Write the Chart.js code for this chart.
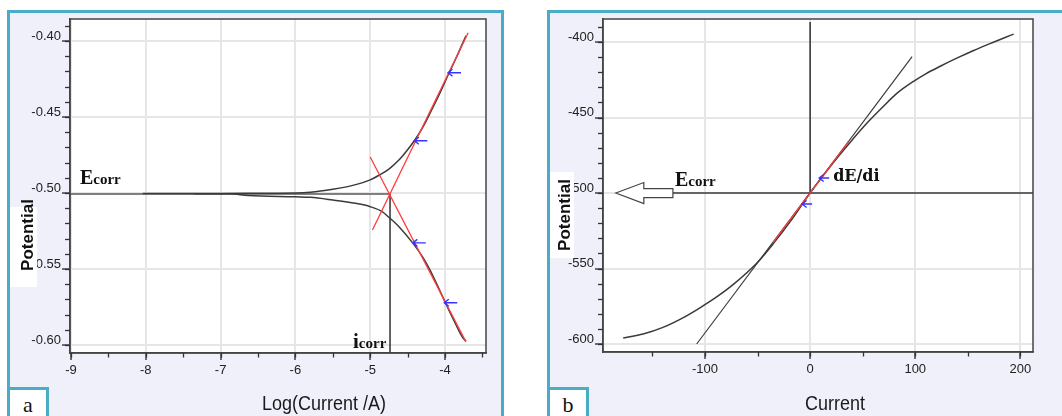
<!DOCTYPE html>
<html><head><meta charset="utf-8">
<script src="https://cdn.jsdelivr.net/npm/chart.js@4"></script>
<style>
html,body{margin:0;padding:0;background:#fff;width:1062px;height:416px;overflow:hidden;position:relative;}
.panel{position:absolute;background:#f0f0fb;border:3px solid #4bacc6;box-sizing:border-box;}
#pa{left:7px;top:10px;width:497px;height:430px;}
#pb{left:547px;top:10px;width:530px;height:430px;}
canvas{position:absolute;top:0;}
#ca{left:0;}
#cb{left:540px;}
.lab{position:absolute;top:387px;width:42px;height:40px;box-sizing:border-box;border:3px solid #4bacc6;background:#fff;font:22px "Liberation Serif",serif;text-align:center;line-height:30px;color:#111;}
#la{left:7px;}
#lb{left:547px;}
</style></head>
<body>
<div class="panel" id="pa"></div>
<div class="panel" id="pb"></div>
<canvas id="ca" width="520" height="416" style="width:520px;height:416px"></canvas>
<canvas id="cb" width="522" height="416" style="width:522px;height:416px"></canvas>
<div class="lab" id="la">a</div>
<div class="lab" id="lb">b</div>
<script>
// ---------- panel a : Tafel plot ----------
const anodicLogI = [-8.04,-7.0,-6.3,-6.0,-5.8,-5.5,-5.3,-5.1,-5.0,-4.87,-4.75,-4.62,-4.5,-4.41,-4.3,-4.2,-4.08,-3.96,-3.85,-3.72];
const anodicE    = [-0.5004,-0.5003,-0.5001,-0.5000,-0.4995,-0.4976,-0.4958,-0.4932,-0.4914,-0.4880,-0.4843,-0.4785,-0.4715,-0.4656,-0.4570,-0.4475,-0.4355,-0.4225,-0.4110,-0.3965];
const cathodicLogI = [-7.35,-6.88,-6.63,-6.0,-5.8,-5.5,-5.2,-5.0,-4.85,-4.75,-4.6,-4.43,-4.3,-4.2,-4.1,-4.0,-3.88,-3.77,-3.72];
const cathodicE    = [-0.5005,-0.5005,-0.5017,-0.5025,-0.5028,-0.5046,-0.5068,-0.5090,-0.5120,-0.5160,-0.5230,-0.5330,-0.5420,-0.5507,-0.5610,-0.5717,-0.5840,-0.5947,-0.5975];
const anodicFitLogI = [-4.97,-3.69];
const anodicFitE    = [-0.5243,-0.3946];
const cathodicFitLogI = [-5.0,-3.72];
const cathodicFitE    = [-0.4763,-0.5980];
const ecorrA = -0.5006;
const logIcorr = -4.735;
const tafelArrowLogI = [-3.96,-4.41,-4.43,-4.01];
const tafelArrowE    = [-0.4209,-0.4656,-0.5328,-0.5722];
const aXRange = [-9.013,-3.452];
const aYRange = [-0.6053,-0.3855];
const aXTicks = [-9,-8,-7,-6,-5,-4];
const aYTicks = [-0.60,-0.55,-0.50,-0.45,-0.40];
const aXTitle = 'Log(Current /A)';
const yTitle = 'Potential';
const ecorrLabel = ['E','corr'];
const icorrLabel = ['i','corr'];

// ---------- panel b : linear polarization ----------
const lprCurrent   = [-177.8,-158.8,-140,-120.6,-104.8,-88.9,-73,-50.8,-35,-17,0,22.2,38,55,69.8,82.5,98.4,110,123.8,140,155,171,193.6];
const lprPotential = [-596,-593.4,-589,-582.5,-576,-568.8,-560.5,-546.5,-533.5,-517,-500,-479.8,-466.5,-453,-442.5,-434,-426,-421,-416,-410.5,-405.7,-401,-394.7];
const tangentCurrent   = [-107.9,97];
const tangentPotential = [-600,-409.6];
const slopeFitCurrent   = [-35,36.5];
const slopeFitPotential = [-532.5,-466];
const ecorrB = -500;
const ecorrLineCurrent = [-130.5,212];
const zeroLinePotential = [-386.7,-500];
const hollowArrowCurrent = [-184.8,-130.5];
const lprArrowCurrent   = [8.6,-7.6];
const lprArrowPotential = [-490,-507.3];
const bXRange = [-197,212];
const bYRange = [-605.3,-384.7];
const bXTicks = [-100,0,100,200];
const bYTicks = [-600,-550,-500,-450,-400];
const bXTitle = 'Current';
const slopeLabel = 'dE/di';

const pts = (xs, ys) => xs.map((x,i)=>({x, y: ys[i]}));
const BLUE = '#3535ff', RED = '#ff3b3b', DARK = '#3a3a3a';

function line(data, color, width, order){
  return {data, borderColor: color, borderWidth: width, showLine: true, pointRadius: 0, fill: false,
          cubicInterpolationMode: 'monotone', order};
}

function makeDeco(cfg){
  return {
    id: 'deco',
    beforeDraw(chart){
      const {ctx, chartArea: a} = chart;
      ctx.save(); ctx.fillStyle = '#fff';
      ctx.fillRect(a.left, a.top, a.right - a.left, a.bottom - a.top);
      ctx.restore();
    },
    afterDraw(chart){
      const {ctx, chartArea: a} = chart;
      const xs = chart.scales.x, ys = chart.scales.y;
      ctx.save();
      // frame
      ctx.strokeStyle = '#444'; ctx.lineWidth = 1.5;
      ctx.strokeRect(a.left, a.top, a.right - a.left, a.bottom - a.top);
      // minor ticks
      ctx.strokeStyle = '#333'; ctx.lineWidth = 1.3;
      const mx = cfg.minorX, my = cfg.minorY;
      for (let v = Math.ceil(xs.min / mx) * mx; v <= xs.max + 1e-9; v += mx) {
        const p = Math.round(xs.getPixelForValue(v)) + 0.5;
        ctx.beginPath(); ctx.moveTo(p, a.bottom); ctx.lineTo(p, a.bottom + 4.5); ctx.stroke();
      }
      for (let v = Math.ceil(ys.min / my) * my; v <= ys.max + 1e-9; v += my) {
        const p = Math.round(ys.getPixelForValue(v)) + 0.5;
        ctx.beginPath(); ctx.moveTo(a.left - 5, p); ctx.lineTo(a.left, p); ctx.stroke();
      }
      // hollow arrow
      if (cfg.hollow) {
        const tx = xs.getPixelForValue(cfg.hollow.x[0]), sx = xs.getPixelForValue(cfg.hollow.x[1]);
        const ty = ys.getPixelForValue(cfg.hollow.y);
        const hx = tx + 28;
        ctx.beginPath();
        ctx.moveTo(tx, ty); ctx.lineTo(hx, ty - 10.5); ctx.lineTo(hx, ty - 4.5); ctx.lineTo(sx, ty - 4.5);
        ctx.lineTo(sx, ty + 4.5); ctx.lineTo(hx, ty + 4.5); ctx.lineTo(hx, ty + 10.5); ctx.closePath();
        ctx.fillStyle = '#fff'; ctx.fill();
        ctx.strokeStyle = '#444'; ctx.lineWidth = 1.2; ctx.stroke();
      }
      // blue arrows
      ctx.strokeStyle = BLUE; ctx.lineWidth = 1.4;
      cfg.arrows.x.forEach((xv, i) => {
        const px = xs.getPixelForValue(xv), py = ys.getPixelForValue(cfg.arrows.y[i]);
        const L = cfg.arrows.len;
        ctx.beginPath();
        ctx.moveTo(px + L, py); ctx.lineTo(px, py);
        ctx.moveTo(px + 4.5, py - 3.5); ctx.lineTo(px, py); ctx.lineTo(px + 4.5, py + 3.5);
        ctx.stroke();
      });
      // annotations
      ctx.fillStyle = '#111'; ctx.textBaseline = 'alphabetic'; ctx.textAlign = 'left';
      cfg.texts.forEach(t => {
        let px = xs.getPixelForValue(t.x); const py = ys.getPixelForValue(t.y);
        t.parts.forEach(part => {
          ctx.font = part.font; ctx.fillText(part.s, px, py);
          px += ctx.measureText(part.s).width;
        });
      });
      // y title with white backing
      ctx.fillStyle = '#fff';
      ctx.fillRect(cfg.yBox[0], cfg.yBox[1], cfg.yBox[2], cfg.yBox[3]);
      ctx.fillStyle = '#111';
      ctx.font = 'bold 17px "Liberation Sans", Arial, sans-serif';
      ctx.textAlign = 'center'; ctx.textBaseline = 'middle';
      ctx.translate(cfg.yTitlePos[0], cfg.yTitlePos[1]); ctx.rotate(-Math.PI / 2);
      ctx.fillText(yTitle, 0, 0);
      ctx.setTransform(1, 0, 0, 1, 0, 0);
      // x title (slightly tall glyphs like the reference)
      ctx.font = '18px "Liberation Sans", Arial, sans-serif';
      ctx.fillStyle = '#1a1a1a';
      ctx.translate(cfg.xTitlePos[0], cfg.xTitlePos[1]); ctx.scale(1, 1.12);
      ctx.fillText(cfg.xTitle, 0, 0);
      ctx.restore();
    }
  };
}

function makeScales(xr, yr, xticks, yticks, xfmt, yfmt, yWidth, xHeight){
  const tickFont = {family: '"Liberation Sans", Arial, sans-serif', size: 13};
  return {
    x: {
      type: 'linear', position: 'bottom', min: xr[0], max: xr[1],
      afterFit: s => { s.height = xHeight; },
      afterBuildTicks: s => { s.ticks = xticks.map(v => ({value: v})); },
      ticks: {autoSkip: false, maxRotation: 0, padding: 3,
              color: '#222', font: tickFont, callback: xfmt},
      grid: {color: '#e6e6e6', lineWidth: 2, tickColor: '#333', tickLength: 7, tickWidth: 1.4},
      border: {display: true, color: '#444', width: 1.5},
      title: {display: false}
    },
    y: {
      type: 'linear', position: 'left', min: yr[0], max: yr[1],
      afterFit: s => { s.width = yWidth; },
      afterBuildTicks: s => { s.ticks = yticks.map(v => ({value: v})); },
      ticks: {autoSkip: false, padding: 1, labelOffset: -5,
              color: '#222', font: tickFont, callback: yfmt},
      grid: {color: '#e6e6e6', lineWidth: 2, tickColor: '#333', tickLength: 8, tickWidth: 1.4},
      border: {display: true, color: '#444', width: 1.5},
      title: {display: false}
    }
  };
}

const commonOpts = {
  responsive: false, animation: false, devicePixelRatio: 1,
  plugins: {legend: {display: false}, tooltip: {enabled: false}, title: {display: false}},
  events: []
};

new Chart(document.getElementById('ca'), {
  type: 'scatter',
  data: {datasets: [
    line(pts(anodicFitLogI, anodicFitE), RED, 1.3, 0),
    line(pts(cathodicFitLogI, cathodicFitE), RED, 1.3, 0),
    line(pts(anodicLogI, anodicE), DARK, 1.5, 1),
    line(pts(cathodicLogI, cathodicE), DARK, 1.5, 1),
    line(pts([aXRange[0], logIcorr], [ecorrA, ecorrA]), '#5a5a5a', 1.5, 2),
    line(pts([logIcorr, logIcorr], [ecorrA, aYRange[0]]), '#222', 1.4, 2)
  ]},
  options: Object.assign({}, commonOpts, {
    layout: {padding: {left: 0, top: 19, right: 34, bottom: 0}},
    scales: makeScales(aXRange, aYRange, aXTicks, aYTicks,
      v => String(v), v => v.toFixed(2), 70, 63)
  }),
  plugins: [makeDeco({
    minorX: 0.5, minorY: 0.01,
    arrows: {x: tafelArrowLogI, y: tafelArrowE, len: 13},
    texts: [
      {x: -8.88, y: -0.4941, parts: [{s: ecorrLabel[0], font: 'bold 20px "Liberation Serif", serif'}, {s: ecorrLabel[1], font: 'bold 15px "Liberation Serif", serif'}]},
      {x: -5.23, y: -0.6020, parts: [{s: icorrLabel[0], font: 'bold 21px "Liberation Serif", serif'}, {s: icorrLabel[1], font: 'bold 15px "Liberation Serif", serif'}]}
    ],
    yBox: [10, 207, 27, 80], yTitlePos: [28, 235],
    xTitle: aXTitle, xTitlePos: [324, 404]
  })]
});

new Chart(document.getElementById('cb'), {
  type: 'scatter',
  data: {datasets: [
    line(pts(slopeFitCurrent, slopeFitPotential), RED, 1.3, 0),
    line(pts(lprCurrent, lprPotential), DARK, 1.5, 1),
    line(pts(tangentCurrent, tangentPotential), DARK, 1.2, 1),
    line(pts(ecorrLineCurrent, [ecorrB, ecorrB]), '#3a3a3a', 1.5, 2),
    line(pts([0, 0], zeroLinePotential), '#222', 1.4, 2)
  ]},
  options: Object.assign({}, commonOpts, {
    layout: {padding: {left: 0, top: 19, right: 29, bottom: 0}},
    scales: makeScales(bXRange, bYRange, bXTicks, bYTicks,
      v => String(v), v => String(v), 63, 64)
  }),
  plugins: [makeDeco({
    minorX: 50, minorY: 10,
    hollow: {x: hollowArrowCurrent, y: ecorrB},
    arrows: {x: lprArrowCurrent, y: lprArrowPotential, len: 10},
    texts: [
      {x: -128.6, y: -495.4, parts: [{s: ecorrLabel[0], font: 'bold 20px "Liberation Serif", serif'}, {s: ecorrLabel[1], font: 'bold 15px "Liberation Serif", serif'}]},
      {x: 21.9, y: -492, parts: [{s: slopeLabel, font: 'bold 16px "DejaVu Serif", serif'}]}
    ],
    yBox: [10, 172, 24, 86], yTitlePos: [25, 215],
    xTitle: bXTitle, xTitlePos: [295, 404]
  })]
});
</script>
</body></html>
